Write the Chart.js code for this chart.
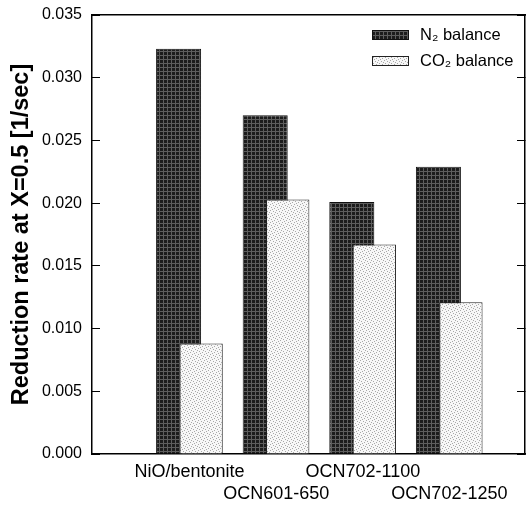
<!DOCTYPE html>
<html lang="en">
<head>
<meta charset="UTF-8">
<title>Reduction rate at X=0.5</title>
<script src="https://cdn.jsdelivr.net/npm/chart.js@4.4.0/dist/chart.umd.min.js"></script>
<style>
  html, body { margin: 0; padding: 0; background: #fff; }
  #chart { display: block; }
</style>
</head>
<body>
<canvas id="chart" width="526" height="506"></canvas>
<script>
// values
const categories = ['NiO/bentonite', 'OCN601-650', 'OCN702-1100', 'OCN702-1250'];
const seriesNames = ['N\u2082 balance', 'CO\u2082 balance'];
const n2Balance = [0.0323, 0.0270, 0.0201, 0.0229];
const co2Balance = [0.0088, 0.0203, 0.0167, 0.0121];
const yTicks = [0.000, 0.005, 0.010, 0.015, 0.020, 0.025, 0.030, 0.035];
const yTitle = 'Reduction rate at X=0.5 [1/sec]';

const FONT = '"Liberation Sans", Arial, sans-serif';
Chart.defaults.font.family = FONT;
Chart.defaults.color = '#000';

// scanned-looking fills
function makePattern(size, bg, fg, dots) {
    const c = document.createElement('canvas');
    c.width = size; c.height = size;
    const g = c.getContext('2d');
    g.fillStyle = bg;
    g.fillRect(0, 0, size, size);
    g.fillStyle = fg;
    dots.forEach(([x, y]) => g.fillRect(x, y, 1, 1));
    return g.createPattern(c, 'repeat');
}
const darkFill = makePattern(4, '#1c1c1c', '#5e5e5e', [[3, 0], [3, 1], [3, 2], [0, 3], [1, 3], [2, 3], [3, 3]]);
const lightFill = makePattern(6, '#f7f7f7', '#a8a8a8', [[0, 0], [3, 1], [1, 3], [4, 4], [5, 2], [2, 5]]);

// legend sits inside the plot, top right
const insideLegend = {
    id: 'insideLegend',
    afterDatasetsDraw(chart) {
        const { ctx, chartArea } = chart;
        ctx.save();
        chart.data.datasets.forEach((ds, i) => {
            const x = chartArea.right - 153;
            const y = chartArea.top + 15 + i * 26;
            ctx.fillStyle = ds.backgroundColor;
            ctx.fillRect(x, y, 37, 10);
            ctx.strokeStyle = ds.borderColor;
            ctx.lineWidth = 1;
            ctx.strokeRect(x + 0.5, y + 0.5, 36, 9);
            ctx.fillStyle = '#000';
            ctx.font = '16.5px ' + FONT;
            ctx.textBaseline = 'middle';
            ctx.fillText(ds.label, x + 48, y + 5);
        });
        ctx.restore();
    }
};

// N2 bars sit on the bottom axis, CO2 bars on the top axis, which is shifted a little,
// so the light bars overlap the dark ones like in the figure
const xMin = 0, xMax = 5, co2Shift = 0.26;

new Chart(document.getElementById('chart').getContext('2d'), {
    type: 'bar',
    data: {
        datasets: [
            {
                label: seriesNames[0],
                data: n2Balance.map((v, i) => ({ x: i + 1, y: v })),
                xAxisID: 'x',
                order: 1,
                grouped: false,
                backgroundColor: darkFill,
                borderColor: '#111',
                borderWidth: 1,
                categoryPercentage: 0.52,
                barPercentage: 1
            },
            {
                label: seriesNames[1],
                data: co2Balance.map((v, i) => ({ x: i + 1, y: v })),
                xAxisID: 'xTop',
                order: 0,
                grouped: false,
                backgroundColor: lightFill,
                borderColor: '#222',
                borderWidth: 1,
                categoryPercentage: 0.5,
                barPercentage: 1
            }
        ]
    },
    options: {
        responsive: false,
        animation: false,
        layout: { padding: { top: 15, right: 1, left: 0, bottom: 0 } },
        plugins: {
            legend: { display: false },
            tooltip: { enabled: false }
        },
        scales: {
            x: {
                type: 'linear',
                min: xMin,
                max: xMax,
                offset: false,
                grid: { display: false, drawTicks: false },
                border: { color: '#000', width: 1.5 },
                ticks: {
                    stepSize: 1,
                    includeBounds: false,
                    autoSkip: false,
                    maxRotation: 0,
                    padding: 7,
                    labelOffset: 11,
                    font: { size: 18, lineHeight: 1.22 },
                    callback: v => {
                        const name = categories[v - 1];
                        if (!name) return '';
                        return (v - 1) % 2 === 0 ? [name, ''] : ['', name];
                    }
                },
                afterFit: s => { s.height = 52; s.paddingLeft = 0; s.paddingRight = 0; }
            },
            xTop: {
                type: 'linear',
                position: 'top',
                min: xMin - co2Shift,
                max: xMax - co2Shift,
                offset: false,
                grid: { display: false, drawTicks: false },
                border: { color: '#000', width: 1.5 },
                ticks: { display: false, stepSize: 1, includeBounds: false },
                afterFit: s => { s.height = 0; }
            },
            y: {
                position: 'left',
                min: 0,
                max: 0.035,
                afterBuildTicks: s => { s.ticks = yTicks.map(v => ({ value: v })); },
                grid: { drawOnChartArea: false, drawTicks: true, tickLength: -8, color: '#000' },
                border: { color: '#000', width: 1.5 },
                ticks: {
                    padding: 18,
                    font: { size: 16 },
                    callback: v => v.toFixed(3)
                },
                title: {
                    display: true,
                    text: yTitle,
                    font: { size: 23.5, weight: 'bold' },
                    padding: { top: 7, bottom: 0 }
                },
                afterFit: s => { s.width = 92; s.paddingTop = 0; s.paddingBottom = 0; }
            },
            y2: {
                position: 'right',
                min: 0,
                max: 0.035,
                afterBuildTicks: s => { s.ticks = yTicks.map(v => ({ value: v })); },
                grid: { drawOnChartArea: false, drawTicks: true, tickLength: -8, color: '#000' },
                border: { color: '#000', width: 1.5 },
                ticks: { display: false },
                afterFit: s => { s.width = 0; s.paddingTop = 0; s.paddingBottom = 0; }
            }
        }
    },
    plugins: [insideLegend]
});
</script>
</body>
</html>
